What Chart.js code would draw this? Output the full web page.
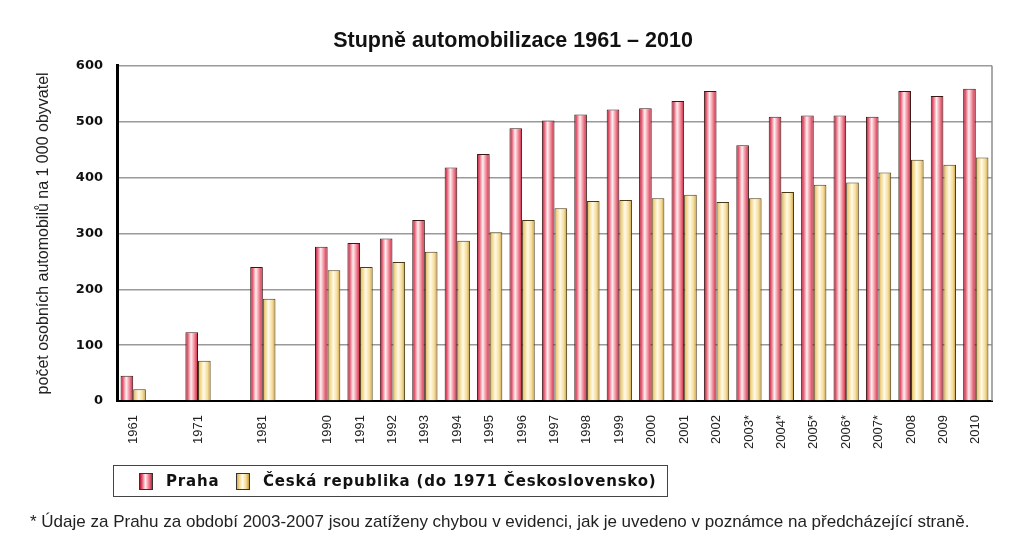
<!DOCTYPE html>
<html>
<head>
<meta charset="utf-8">
<script src="https://cdn.jsdelivr.net/npm/chart.js@4.4.0/dist/chart.umd.min.js"></script>
<style>
  html, body { margin:0; padding:0; background:#fff; }
  #wrap { position:relative; width:1024px; height:545px; overflow:hidden; }
  #c { position:absolute; left:0; top:0; }
  #legend { position:absolute; left:113px; top:465px; width:555px; height:32px; border:1px solid #444;
            font-family:"DejaVu Sans", sans-serif; font-weight:bold; font-size:15px; letter-spacing:0.8px; color:#111; box-sizing:border-box; }
  #legend .item { position:absolute; top:6px; display:flex; align-items:center; white-space:nowrap; }
  #legend .sw { width:12px; height:15px; border:1px solid #333; margin-right:13px; }
  #foot { position:absolute; left:30px; top:512px; font-family:"Liberation Sans", sans-serif;
          font-size:17px; color:#222; white-space:nowrap; }
</style>
</head>
<body>
<div id="wrap">
  <canvas id="c" width="1024" height="545"></canvas>
  <div id="legend">
    <div class="item" style="left:25px"><span class="sw" id="sw0"></span><span>Praha</span></div>
    <div class="item" style="left:122px"><span class="sw" id="sw1"></span><span>Česká republika (do 1971 Československo)</span></div>
  </div>
  <div id="foot">* Údaje za Prahu za období 2003-2007 jsou zatíženy chybou v evidenci, jak je uvedeno v poznámce na předcházející straně.</div>
</div>
<script>
// ---- data ----
const labels = ['1961','','1971','','1981','','1990','1991','1992','1993','1994','1995','1996','1997','1998','1999','2000','2001','2002','2003*','2004*','2005*','2006*','2007*','2008','2009','2010'];
const praha = [45,null,123,null,240,null,276,283,291,324,418,442,488,502,513,522,524,537,555,458,509,511,511,509,555,546,559];
const ceskaRepublika = [21,null,72,null,183,null,234,240,249,267,287,302,324,345,358,360,363,369,356,363,374,387,391,409,432,423,436];
const seriesNames = ['Praha','Česká republika (do 1971 Československo)'];
const yTicks = [0,100,200,300,400,500,600];

// ---- styles ----
const CAT_PCT = 0.78;
const redStops = [[0,'#b3122f'],[0.18,'#e25a72'],[0.45,'#fff0f0'],[0.72,'#f28595'],[1,'#c3243f']];
const yelStops = [[0,'#d7ae52'],[0.2,'#f2d88f'],[0.45,'#fffbea'],[0.75,'#f5dc99'],[1,'#c49a3c']];
const css = s => 'linear-gradient(to right,' + s.map(p => p[1] + ' ' + (p[0]*100) + '%').join(',') + ')';
document.getElementById('sw0').style.background = css(redStops);
document.getElementById('sw1').style.background = css(yelStops);

function barFill(stops, dsIndex, fallback) {
  return function(ctx) {
    const chart = ctx.chart;
    const xs = chart.scales && chart.scales.x;
    if (ctx.type !== 'data' || !xs || !chart.chartArea || !xs.width) return fallback;
    const center = xs.getPixelForValue(ctx.dataIndex);
    const slot = xs.width / labels.length;
    const cat = slot * CAT_PCT;
    const bw = cat / 2;
    const left = center - cat / 2 + dsIndex * bw;
    const g = chart.ctx.createLinearGradient(left, 0, left + bw, 0);
    stops.forEach(s => g.addColorStop(s[0], s[1]));
    return g;
  };
}

const rightBorder = {
  id: 'rightBorder',
  beforeDatasetsDraw(chart) {
    const a = chart.chartArea, c = chart.ctx;
    c.save();
    c.strokeStyle = '#8c8c8c'; c.lineWidth = 1.5;
    c.beginPath(); c.moveTo(a.right, a.top); c.lineTo(a.right, a.bottom); c.stroke();
    c.restore();
  }
};

new Chart(document.getElementById('c'), {
  type: 'bar',
  data: {
    labels: labels,
    datasets: [
      { label: seriesNames[0], data: praha, backgroundColor: barFill(redStops, 0, '#e8788a'),
        borderColor: '#3a1818', borderWidth: 1, borderSkipped: 'bottom',
        categoryPercentage: CAT_PCT, barPercentage: 1 },
      { label: seriesNames[1], data: ceskaRepublika, backgroundColor: barFill(yelStops, 1, '#f3d98e'),
        borderColor: '#4a3a16', borderWidth: 1, borderSkipped: 'bottom',
        categoryPercentage: CAT_PCT, barPercentage: 1 }
    ]
  },
  options: {
    responsive: false,
    animation: false,
    events: [],
    layout: { padding: { left: 34, right: 32, top: 0, bottom: 0 } },
    plugins: {
      legend: { display: false },
      tooltip: { enabled: false },
      title: {
        display: true,
        text: 'Stupně automobilizace 1961 – 2010',
        color: '#111',
        font: { family: 'Liberation Sans', size: 21.5, weight: 'bold' },
        padding: { top: 28, bottom: 12 }
      }
    },
    scales: {
      x: {
        offset: true,
        grid: { display: false },
        border: { display: true, color: '#000', width: 2 },
        ticks: {
          autoSkip: false, minRotation: 90, maxRotation: 90, padding: 6,
          color: '#222', font: { family: 'Liberation Sans', size: 13 }
        },
        afterFit: s => { s.height = 144; }
      },
      y: {
        min: 0, max: 600,
        afterBuildTicks: s => { s.ticks = yTicks.map(v => ({ value: v })); },
        grid: { color: '#9a9a9a', lineWidth: 1.5, drawTicks: false },
        border: { display: true, color: '#000', width: 3 },
        ticks: { padding: 14, color: '#111', font: { family: 'DejaVu Sans', size: 13, weight: 'bold' } },
        title: { display: true, text: 'počet osobních automobilů na 1 000 obyvatel', color: '#222',
                 font: { family: 'Liberation Sans', size: 16 }, padding: { top: 0, bottom: 0 } },
        afterFit: s => { s.width = 83; }
      }
    }
  },
  plugins: [rightBorder]
});
</script>
</body>
</html>
